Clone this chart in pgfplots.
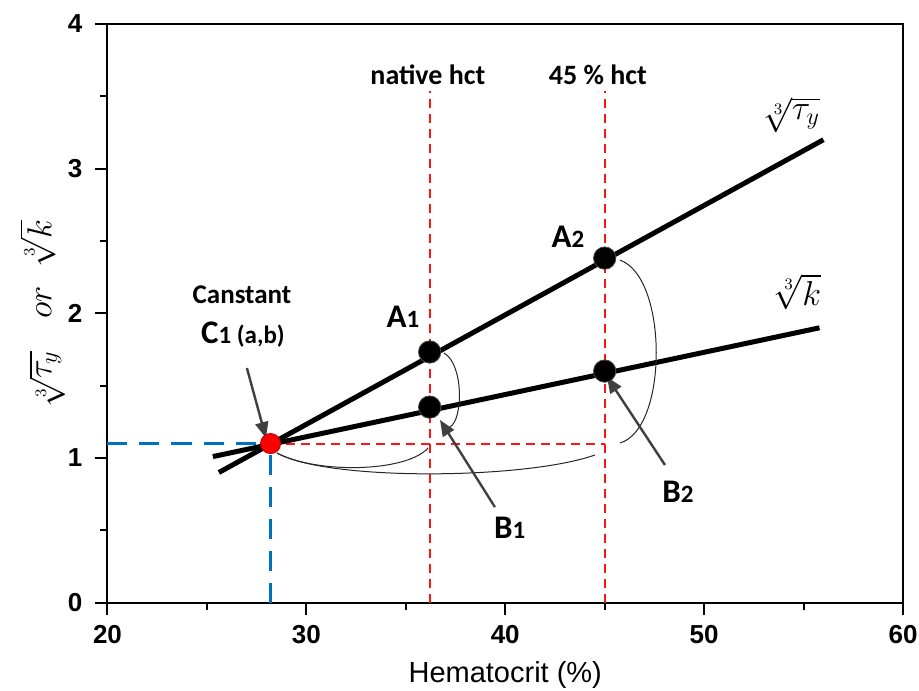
\documentclass[border=0pt]{standalone}
\usepackage{pgfplots}
\pgfplotsset{compat=1.18}
\usepackage{fontspec}
\setmainfont{Liberation Sans}
\newfontfamily\calib{Carlito}
\usetikzlibrary{arrows.meta}
\definecolor{myblue}{RGB}{0,112,192}
\definecolor{myred}{RGB}{255,20,20}
\definecolor{arrowgray}{RGB}{64,64,64}
\begin{document}
\begin{tikzpicture}
\begin{axis}[name=ax, scale only axis, width=397.75pt, height=289.35pt,
  xmin=20, xmax=60, ymin=0, ymax=4,
  xtick={20,30,...,60}, ytick={0,1,...,4},
  minor x tick num=1, minor y tick num=1,
  tick pos=left, tick align=outside,
  major tick length=6pt, minor tick length=3.5pt,
  axis line style={line width=1pt},
  tick style={line width=1pt, black},
  ticklabel style={font=\fontsize{13}{15}\selectfont\bfseries},
  xticklabel style={yshift=-2pt},
  yticklabel style={xshift=-3pt},
  /pgf/number format/assume math mode=true,
  xlabel={Hematocrit (\%)},
  xlabel style={font=\fontsize{14.5}{17}\selectfont, at={(axis description cs:0.5,0)}, anchor=center, yshift=-36pt},
  ylabel={$\sqrt[3]{\tau_y}$\hspace{16pt}$or$\hspace{10pt}$\sqrt[3]{k}$},
  ylabel style={at={(axis description cs:-0.082,0.5)}, anchor=center, inner sep=0pt, font=\fontsize{17}{20}\selectfont},
  clip=false]

% dashed guide lines
\addplot[draw=myred, line width=1pt, dash pattern=on 4.5pt off 3pt] coordinates {(36.2,0) (36.2,3.54)};
\addplot[draw=myred, line width=1pt, dash pattern=on 4.5pt off 3pt] coordinates {(45,0) (45,3.54)};
\addplot[draw=myred, line width=1pt, dash pattern=on 4.5pt off 3pt] coordinates {(28.2,1.1) (45,1.1)};
\addplot[draw=myblue, line width=1.2pt, dash pattern=on 10pt off 6pt] coordinates {(20,1.1) (28.2,1.1)};
\addplot[draw=myblue, line width=1.2pt, dash pattern=on 10pt off 6pt] coordinates {(28.2,0) (28.2,1.1)};

% fitted lines
\addplot[draw=black, line width=2.5pt] coordinates {(25.6,0.9) (56,3.2)};
\addplot[draw=black, line width=2.5pt] coordinates {(25.3,1.01) (55.8,1.9)};

% thin arcs
\draw[black!85, line width=0.5pt] (axis cs:36.92,1.726) .. controls (axis cs:37.9,1.65) and (axis cs:37.9,1.27) .. (axis cs:37.22,1.214);
\draw[black!85, line width=0.5pt] (axis cs:28.52,1.035) .. controls (axis cs:30.5,0.89) and (axis cs:35,0.9) .. (axis cs:36.12,1.069);
\draw[black!85, line width=0.5pt] (axis cs:28.52,1.035) .. controls (axis cs:31,0.84) and (axis cs:41,0.85) .. (axis cs:44.51,1.021);
\draw[black!85, line width=0.5pt] (axis cs:45.77,2.368) .. controls (axis cs:48.2,2.25) and (axis cs:48.2,1.2) .. (axis cs:45.77,1.104);

% points
\addplot[only marks, mark=*, mark size=5.6pt, mark options={fill=black, draw=black!70}] coordinates {(36.2,1.733) (36.2,1.352) (45,2.382) (45,1.601)};
\addplot[only marks, mark=*, mark size=5pt, mark options={fill=red, draw=red!75!black, line width=0.5pt}] coordinates {(28.2,1.1)};

% arrows
\draw[arrowgray, line width=1.2pt, -{Triangle[length=8pt,width=6.5pt]}] (axis cs:27.01,1.622) -- (axis cs:27.97,1.138);
\draw[arrowgray, line width=1.2pt, -{Triangle[length=8pt,width=6.5pt]}] (axis cs:39.48,0.661) -- (axis cs:36.72,1.263);
\draw[arrowgray, line width=1.2pt, -{Triangle[length=8pt,width=6.5pt]}] (axis cs:48.03,0.952) -- (axis cs:45.12,1.56);

% labels
\node[font=\calib\bfseries\fontsize{14}{16}\selectfont] at (axis cs:36.11,3.646) {native hct};
\node[font=\calib\bfseries\fontsize{14}{16}\selectfont] at (axis cs:44.66,3.646) {45 \% hct};
\node[font=\calib\bfseries\fontsize{13.5}{16}\selectfont] at (axis cs:26.76,2.127) {Canstant};
\node[font=\calib\bfseries] at (axis cs:26.81,1.85) {\fontsize{16.5}{18}\selectfont C\fontsize{12.5}{14}\selectfont 1 (a,b)};
\node[font=\calib\bfseries] at (axis cs:34.86,1.975) {\fontsize{16.5}{18}\selectfont A\fontsize{12.5}{14}\selectfont 1};
\node[font=\calib\bfseries] at (axis cs:43.15,2.527) {\fontsize{16.5}{18}\selectfont A\fontsize{12.5}{14}\selectfont 2};
\node[font=\calib\bfseries] at (axis cs:40.23,0.517) {\fontsize{16.5}{18}\selectfont B\fontsize{12.5}{14}\selectfont 1};
\node[font=\calib\bfseries] at (axis cs:48.68,0.766) {\fontsize{16.5}{18}\selectfont B\fontsize{12.5}{14}\selectfont 2};
\node[font=\fontsize{17}{20}\selectfont] at (axis cs:54.42,3.37) {$\sqrt[3]{\tau_y}$};
\node[font=\fontsize{17}{20}\selectfont] at (axis cs:54.72,2.148) {$\sqrt[3]{k}$};
\end{axis}
\pgfresetboundingbox
\path ([xshift=-53.75pt,yshift=-43.65pt]ax.south west) rectangle ([xshift=8pt,yshift=12pt]ax.north east);
\end{tikzpicture}
\end{document}
